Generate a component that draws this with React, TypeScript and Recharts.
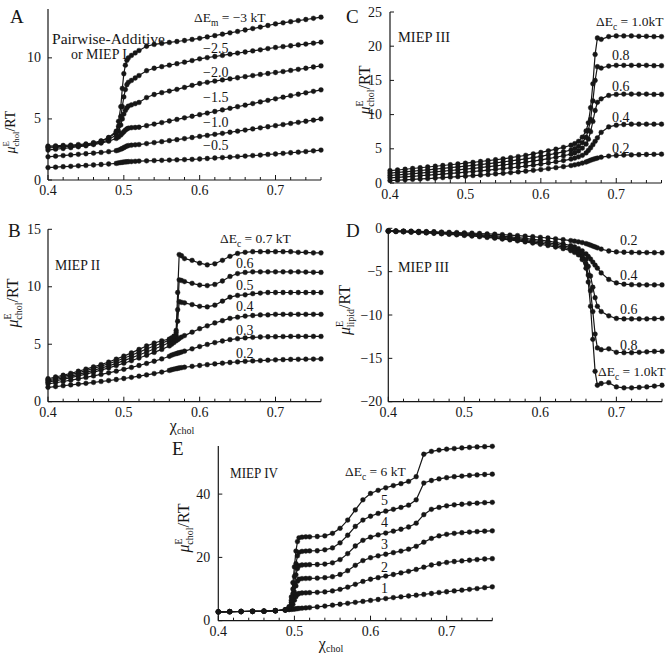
import React from 'react';
import { LineChart, Line, XAxis, YAxis } from 'recharts';

const FONT = '"Liberation Serif", "Times New Roman", serif';
const INK = '#161616';

const X_TICKS = [0.4, 0.42, 0.44, 0.46, 0.48, 0.5, 0.52, 0.54, 0.56, 0.58, 0.6, 0.62, 0.64, 0.66, 0.68, 0.7, 0.72, 0.74, 0.76];

// ---------- Panel A (Pairwise-Additive / MIEP I) ----------
const A_X = [0.40, 0.41, 0.42, 0.43, 0.44, 0.45, 0.46, 0.47, 0.48, 0.49, 0.493, 0.496, 0.498, 0.50, 0.502, 0.504, 0.506, 0.51, 0.515, 0.52, 0.53, 0.54, 0.55, 0.56, 0.57, 0.58, 0.59, 0.60, 0.61, 0.62, 0.63, 0.64, 0.65, 0.66, 0.67, 0.68, 0.69, 0.70, 0.71, 0.72, 0.73, 0.74, 0.75, 0.76];
const A_M05 = [1.02, 1.05, 1.09, 1.12, 1.16, 1.19, 1.23, 1.27, 1.31, 1.36, 1.40, 1.43, 1.45, 1.47, 1.48, 1.49, 1.50, 1.51, 1.53, 1.55, 1.57, 1.59, 1.61, 1.63, 1.65, 1.67, 1.69, 1.72, 1.76, 1.80, 1.84, 1.88, 1.92, 1.96, 2.00, 2.04, 2.09, 2.13, 2.18, 2.23, 2.28, 2.33, 2.39, 2.45];
const A_M10 = [1.90, 1.95, 2.00, 2.05, 2.10, 2.15, 2.20, 2.26, 2.32, 2.40, 2.45, 2.52, 2.58, 2.65, 2.72, 2.78, 2.82, 2.85, 2.88, 2.90, 2.98, 3.06, 3.14, 3.22, 3.30, 3.39, 3.48, 3.57, 3.65, 3.74, 3.82, 3.91, 4.00, 4.09, 4.18, 4.27, 4.36, 4.45, 4.54, 4.63, 4.72, 4.81, 4.90, 5.00];
const A_M15 = [2.45, 2.52, 2.58, 2.65, 2.72, 2.80, 2.90, 3.02, 3.18, 3.40, 3.52, 3.68, 3.82, 3.95, 4.08, 4.18, 4.24, 4.28, 4.30, 4.32, 4.45, 4.58, 4.70, 4.83, 4.96, 5.09, 5.22, 5.35, 5.48, 5.61, 5.74, 5.87, 6.00, 6.13, 6.26, 6.39, 6.52, 6.65, 6.78, 6.90, 7.02, 7.14, 7.26, 7.38];
const A_M20 = [2.62, 2.66, 2.70, 2.75, 2.80, 2.86, 2.95, 3.08, 3.30, 3.70, 4.00, 4.50, 5.00, 5.40, 5.70, 5.90, 6.05, 6.15, 6.25, 6.35, 6.75, 7.00, 7.15, 7.28, 7.42, 7.58, 7.75, 7.90, 8.00, 8.10, 8.19, 8.28, 8.37, 8.46, 8.55, 8.64, 8.72, 8.80, 8.88, 8.97, 9.06, 9.15, 9.25, 9.34];
const A_M25 = [2.78, 2.80, 2.83, 2.86, 2.90, 2.95, 3.05, 3.20, 3.45, 3.90, 4.40, 5.20, 6.00, 6.80, 7.40, 7.80, 8.00, 8.15, 8.35, 8.55, 8.95, 9.15, 9.28, 9.40, 9.52, 9.65, 9.78, 9.92, 10.02, 10.11, 10.20, 10.30, 10.39, 10.48, 10.57, 10.66, 10.76, 10.85, 10.92, 10.99, 11.06, 11.13, 11.20, 11.28];
const A_M30 = [2.70, 2.72, 2.75, 2.78, 2.82, 2.88, 3.00, 3.18, 3.48, 4.00, 4.80, 6.00, 7.50, 8.70, 9.40, 9.80, 10.00, 10.20, 10.40, 10.60, 10.95, 11.10, 11.18, 11.26, 11.34, 11.42, 11.51, 11.60, 11.71, 11.82, 11.94, 12.05, 12.16, 12.28, 12.40, 12.52, 12.65, 12.78, 12.87, 12.96, 13.05, 13.14, 13.24, 13.33];
const A_Y_TICKS = [0, 5, 10];

// ---------- Panel B (MIEP II) ----------
const B_X = [0.40, 0.41, 0.42, 0.43, 0.44, 0.45, 0.46, 0.47, 0.48, 0.49, 0.50, 0.51, 0.52, 0.53, 0.54, 0.55, 0.56, 0.563, 0.566, 0.569, 0.571, 0.573, 0.576, 0.58, 0.59, 0.60, 0.61, 0.62, 0.63, 0.64, 0.65, 0.66, 0.67, 0.68, 0.69, 0.70, 0.71, 0.72, 0.73, 0.74, 0.75, 0.76];
const B_07 = [2.00, 2.15, 2.30, 2.47, 2.65, 2.84, 3.03, 3.23, 3.45, 3.70, 3.97, 4.25, 4.55, 4.85, 5.10, 5.30, 5.45, 5.55, 5.70, 6.20, 9.50, 12.80, 12.70, 12.45, 12.30, 12.05, 11.90, 12.00, 12.30, 12.65, 12.90, 13.00, 13.05, 13.05, 13.05, 13.05, 13.05, 13.05, 13.00, 13.00, 12.95, 12.95];
const B_06 = [1.90, 2.04, 2.19, 2.35, 2.52, 2.70, 2.89, 3.09, 3.30, 3.53, 3.78, 4.04, 4.31, 4.58, 4.85, 5.10, 5.35, 5.45, 5.60, 6.00, 8.00, 10.60, 10.55, 10.45, 10.30, 10.15, 10.10, 10.20, 10.50, 10.90, 11.15, 11.25, 11.30, 11.30, 11.30, 11.30, 11.30, 11.30, 11.30, 11.28, 11.26, 11.25];
const B_05 = [1.80, 1.93, 2.07, 2.22, 2.38, 2.55, 2.73, 2.92, 3.12, 3.34, 3.57, 3.81, 4.06, 4.32, 4.58, 4.85, 5.15, 5.30, 5.45, 5.75, 7.00, 8.70, 8.65, 8.60, 8.45, 8.30, 8.25, 8.40, 8.75, 9.10, 9.25, 9.30, 9.40, 9.45, 9.50, 9.50, 9.50, 9.50, 9.50, 9.50, 9.50, 9.50];
const B_04 = [1.70, 1.82, 1.95, 2.09, 2.24, 2.40, 2.57, 2.75, 2.94, 3.14, 3.35, 3.57, 3.80, 4.04, 4.29, 4.55, 4.85, 5.00, 5.15, 5.30, 5.40, 5.50, 5.62, 5.75, 6.05, 6.35, 6.60, 6.85, 7.05, 7.25, 7.35, 7.45, 7.50, 7.55, 7.55, 7.60, 7.60, 7.60, 7.60, 7.60, 7.60, 7.60];
const B_03 = [1.55, 1.65, 1.76, 1.87, 1.99, 2.11, 2.24, 2.37, 2.51, 2.66, 2.82, 2.98, 3.15, 3.33, 3.52, 3.72, 3.95, 4.05, 4.12, 4.18, 4.22, 4.26, 4.32, 4.40, 4.60, 4.80, 4.98, 5.14, 5.28, 5.40, 5.48, 5.55, 5.60, 5.63, 5.65, 5.66, 5.67, 5.68, 5.68, 5.68, 5.68, 5.68];
const B_02 = [1.25, 1.32, 1.39, 1.46, 1.53, 1.60, 1.68, 1.76, 1.84, 1.93, 2.02, 2.12, 2.22, 2.33, 2.45, 2.58, 2.72, 2.78, 2.83, 2.87, 2.90, 2.93, 2.96, 3.00, 3.08, 3.15, 3.22, 3.29, 3.35, 3.41, 3.46, 3.51, 3.55, 3.58, 3.61, 3.64, 3.66, 3.68, 3.69, 3.70, 3.71, 3.72];
const B_Y_TICKS = [0, 5, 10, 15];

// ---------- Panel C (MIEP III, cholesterol) ----------
const C_X = [0.40, 0.41, 0.42, 0.43, 0.44, 0.45, 0.46, 0.47, 0.48, 0.49, 0.50, 0.51, 0.52, 0.53, 0.54, 0.55, 0.56, 0.57, 0.58, 0.59, 0.60, 0.61, 0.62, 0.63, 0.64, 0.645, 0.65, 0.655, 0.66, 0.663, 0.666, 0.669, 0.672, 0.675, 0.68, 0.69, 0.70, 0.71, 0.72, 0.73, 0.74, 0.75, 0.76];
const C_10 = [1.80, 1.90, 2.01, 2.12, 2.23, 2.34, 2.45, 2.56, 2.67, 2.78, 2.90, 3.02, 3.14, 3.27, 3.40, 3.54, 3.70, 3.87, 4.05, 4.25, 4.47, 4.70, 4.95, 5.22, 5.52, 5.75, 6.10, 6.70, 7.60, 8.80, 11.0, 14.5, 18.8, 21.2, 21.0, 21.4, 21.5, 21.5, 21.5, 21.45, 21.45, 21.4, 21.4];
const C_08 = [1.45, 1.54, 1.63, 1.73, 1.83, 1.93, 2.03, 2.13, 2.24, 2.35, 2.46, 2.58, 2.70, 2.82, 2.95, 3.09, 3.23, 3.38, 3.54, 3.71, 3.90, 4.10, 4.32, 4.56, 4.82, 5.02, 5.35, 5.90, 6.70, 7.70, 9.30, 12.0, 15.0, 17.0, 16.8, 17.1, 17.2, 17.2, 17.2, 17.2, 17.2, 17.15, 17.15];
const C_06 = [1.10, 1.18, 1.27, 1.36, 1.45, 1.54, 1.63, 1.73, 1.83, 1.93, 2.04, 2.15, 2.26, 2.38, 2.50, 2.63, 2.76, 2.90, 3.05, 3.21, 3.38, 3.56, 3.76, 3.98, 4.22, 4.40, 4.68, 5.10, 5.70, 6.40, 7.50, 9.00, 10.6, 11.8, 12.3, 12.8, 12.95, 13.0, 13.0, 13.0, 13.0, 12.95, 12.95];
const C_04 = [0.75, 0.82, 0.90, 0.98, 1.06, 1.14, 1.22, 1.31, 1.40, 1.49, 1.58, 1.68, 1.78, 1.88, 1.99, 2.10, 2.22, 2.34, 2.47, 2.61, 2.76, 2.92, 3.09, 3.28, 3.50, 3.64, 3.82, 4.05, 4.40, 4.75, 5.15, 5.60, 6.10, 6.60, 7.40, 8.20, 8.45, 8.55, 8.60, 8.60, 8.60, 8.60, 8.60];
const C_02 = [0.35, 0.41, 0.47, 0.53, 0.59, 0.65, 0.72, 0.79, 0.86, 0.93, 1.00, 1.08, 1.16, 1.24, 1.33, 1.42, 1.52, 1.62, 1.73, 1.85, 1.97, 2.10, 2.24, 2.39, 2.55, 2.65, 2.77, 2.91, 3.07, 3.20, 3.33, 3.45, 3.55, 3.65, 3.77, 3.93, 4.02, 4.08, 4.11, 4.14, 4.17, 4.19, 4.21];
const C_Y_TICKS = [0, 5, 10, 15, 20, 25];

// ---------- Panel D (MIEP III, lipid) ----------
const D_X = [0.40, 0.41, 0.42, 0.43, 0.44, 0.45, 0.46, 0.47, 0.48, 0.49, 0.50, 0.51, 0.52, 0.53, 0.54, 0.55, 0.56, 0.57, 0.58, 0.59, 0.60, 0.61, 0.62, 0.63, 0.64, 0.645, 0.65, 0.655, 0.66, 0.663, 0.666, 0.669, 0.672, 0.675, 0.68, 0.69, 0.70, 0.71, 0.72, 0.73, 0.74, 0.75, 0.76];
const D_02 = [-0.30, -0.31, -0.32, -0.34, -0.36, -0.38, -0.40, -0.43, -0.46, -0.49, -0.52, -0.56, -0.60, -0.64, -0.68, -0.73, -0.78, -0.84, -0.90, -0.97, -1.04, -1.12, -1.21, -1.31, -1.42, -1.49, -1.56, -1.65, -1.76, -1.85, -1.95, -2.05, -2.15, -2.25, -2.40, -2.62, -2.72, -2.76, -2.78, -2.80, -2.80, -2.81, -2.82];
const D_04 = [-0.30, -0.32, -0.34, -0.36, -0.39, -0.42, -0.45, -0.49, -0.53, -0.57, -0.62, -0.67, -0.73, -0.79, -0.85, -0.92, -0.99, -1.07, -1.16, -1.26, -1.37, -1.49, -1.63, -1.80, -2.00, -2.15, -2.35, -2.60, -2.95, -3.25, -3.55, -3.90, -4.25, -4.60, -5.15, -5.90, -6.30, -6.45, -6.50, -6.52, -6.53, -6.53, -6.53];
const D_06 = [-0.30, -0.33, -0.36, -0.39, -0.42, -0.46, -0.50, -0.54, -0.59, -0.64, -0.70, -0.76, -0.82, -0.89, -0.96, -1.04, -1.12, -1.21, -1.31, -1.42, -1.54, -1.67, -1.82, -2.00, -2.22, -2.40, -2.65, -3.00, -3.60, -4.40, -5.50, -6.80, -8.00, -9.00, -9.60, -10.1, -10.4, -10.45, -10.45, -10.45, -10.45, -10.42, -10.4];
const D_08 = [-0.32, -0.35, -0.38, -0.42, -0.46, -0.50, -0.54, -0.59, -0.64, -0.70, -0.76, -0.83, -0.90, -0.98, -1.06, -1.15, -1.24, -1.34, -1.45, -1.57, -1.70, -1.84, -2.00, -2.18, -2.40, -2.58, -2.85, -3.25, -4.10, -5.40, -7.20, -9.60, -12.2, -13.8, -14.0, -13.9, -14.3, -14.35, -14.35, -14.3, -14.25, -14.2, -14.2];
const D_10 = [-0.35, -0.38, -0.41, -0.45, -0.49, -0.53, -0.58, -0.63, -0.69, -0.75, -0.82, -0.89, -0.97, -1.05, -1.14, -1.24, -1.34, -1.45, -1.57, -1.70, -1.84, -1.99, -2.16, -2.35, -2.58, -2.78, -3.05, -3.60, -4.60, -6.20, -9.00, -12.8, -16.5, -18.1, -17.9, -17.8, -18.3, -18.4, -18.4, -18.35, -18.3, -18.2, -18.1];
const D_Y_TICKS = [0, -5, -10, -15, -20];

// ---------- Panel E (MIEP IV) ----------
const E_X = [0.40, 0.415, 0.43, 0.445, 0.46, 0.475, 0.488, 0.493, 0.496, 0.498, 0.50, 0.502, 0.504, 0.506, 0.51, 0.515, 0.52, 0.53, 0.54, 0.55, 0.56, 0.57, 0.58, 0.59, 0.60, 0.61, 0.62, 0.63, 0.64, 0.65, 0.66, 0.67, 0.68, 0.69, 0.70, 0.71, 0.72, 0.73, 0.74, 0.75, 0.76];
const E_1 = [2.80, 2.85, 2.90, 2.95, 3.00, 3.15, 3.40, 3.50, 3.58, 3.64, 3.70, 3.76, 3.82, 3.88, 3.95, 4.05, 4.15, 4.35, 4.62, 4.90, 5.20, 5.50, 5.80, 6.10, 6.40, 6.70, 7.00, 7.30, 7.55, 7.80, 8.05, 8.30, 8.60, 8.90, 9.15, 9.40, 9.65, 9.90, 10.15, 10.45, 10.70];
const E_2 = [2.80, 2.85, 2.90, 2.95, 3.00, 3.15, 3.40, 3.60, 4.20, 5.20, 6.50, 7.60, 8.30, 8.60, 8.75, 8.80, 8.85, 8.95, 9.10, 9.40, 9.90, 10.60, 11.50, 12.40, 13.10, 13.60, 14.10, 14.60, 15.10, 15.60, 16.20, 16.90, 17.60, 18.00, 18.40, 18.70, 18.90, 19.10, 19.30, 19.50, 19.60];
const E_3 = [2.80, 2.85, 2.90, 2.95, 3.00, 3.15, 3.40, 3.80, 5.00, 6.80, 9.00, 11.00, 12.50, 13.10, 13.30, 13.35, 13.40, 13.45, 13.60, 13.90, 14.60, 15.80, 17.50, 19.00, 19.90, 20.50, 21.00, 21.50, 22.00, 22.60, 23.50, 24.80, 26.00, 26.80, 27.30, 27.60, 27.80, 28.00, 28.15, 28.30, 28.40];
const E_4 = [2.80, 2.85, 2.90, 2.95, 3.00, 3.15, 3.40, 4.00, 5.80, 8.50, 11.50, 14.50, 16.50, 17.40, 17.60, 17.65, 17.70, 17.75, 17.90, 18.30, 19.30, 21.20, 23.60, 25.40, 26.40, 27.10, 27.70, 28.30, 28.90, 29.60, 30.80, 33.50, 35.20, 35.80, 36.30, 36.60, 36.80, 37.00, 37.15, 37.30, 37.40];
const E_5 = [2.80, 2.85, 2.90, 2.95, 3.00, 3.15, 3.40, 4.20, 6.50, 10.00, 14.00, 18.00, 20.50, 21.60, 21.90, 22.00, 22.05, 22.10, 22.40, 23.00, 24.60, 27.00, 29.80, 31.80, 33.00, 33.90, 34.60, 35.20, 35.80, 36.50, 38.20, 43.50, 44.30, 44.80, 45.20, 45.50, 45.70, 45.90, 46.05, 46.20, 46.30];
const E_6 = [2.80, 2.85, 2.90, 2.95, 3.00, 3.15, 3.40, 4.40, 7.50, 12.00, 17.00, 22.00, 25.00, 26.20, 26.40, 26.50, 26.50, 26.60, 26.80, 27.60, 29.20, 31.80, 35.00, 38.20, 40.20, 41.20, 42.00, 42.70, 43.30, 44.00, 45.50, 52.60, 53.50, 53.90, 54.20, 54.40, 54.60, 54.75, 54.90, 55.00, 55.10];
const E_Y_TICKS = [0, 20, 40];

// ---------- drawing helpers ----------
const fmtY = (v: number) => (v < 0 ? '\u2212' + Math.abs(v) : String(v));

const XTick = (props: any) => {
  const { x, y, payload, dy } = props;
  const v = payload.value as number;
  const major = Math.abs(v * 10 - Math.round(v * 10)) < 1e-6;
  return (
    <g>
      <line x1={x} x2={x} y1={y} y2={y - (major ? 5 : 3)} stroke={INK} strokeWidth={1} />
      {major && (
        <text x={x} y={y + dy} textAnchor="middle" fontFamily={FONT} fontSize={14} fill={INK}>
          {v.toFixed(1)}
        </text>
      )}
    </g>
  );
};

const YTick = (props: any) => {
  const { x, y, payload, gap } = props;
  return (
    <g>
      <line x1={x} x2={x + 4} y1={y} y2={y} stroke={INK} strokeWidth={1} />
      <text x={x - gap} y={y + 4.5} textAnchor="end" fontFamily={FONT} fontSize={14} fill={INK}>
        {fmtY(payload.value)}
      </text>
    </g>
  );
};

type PanelProps = {
  left: number; top: number; w: number; h: number;
  x0: number; x1: number; y0: number; y1: number;
  xs: number[]; series: number[][];
  yDomain: [number, number]; yTicks: number[];
  xLabelDy: number; yLabelGap: number;
};

function Panel(p: PanelProps) {
  const rows = p.xs.map((x, i) => {
    const r: Record<string, number> = { x };
    p.series.forEach((s, j) => { r['s' + j] = s[i]; });
    return r;
  });
  return (
    <div style={{ position: 'absolute', left: p.left, top: p.top }}>
      <LineChart width={p.w} height={p.h} data={rows} margin={{ top: p.y0, right: p.w - p.x1, bottom: 0, left: 0 }}>
        <XAxis
          dataKey="x" type="number" domain={[0.4, 0.76]} ticks={X_TICKS} interval={0}
          tickSize={0} tickMargin={0} tickLine={false}
          axisLine={{ stroke: INK, strokeWidth: 1.2 }} height={p.h - p.y1}
          tick={(t: any) => <XTick {...t} dy={p.xLabelDy} />}
        />
        <YAxis
          type="number" domain={p.yDomain} ticks={p.yTicks} interval={0} width={p.x0}
          tickSize={0} tickMargin={0} tickLine={false}
          axisLine={{ stroke: INK, strokeWidth: 1.2 }}
          tick={(t: any) => <YTick {...t} gap={p.yLabelGap} />}
        />
        {p.series.map((_, j) => (
          <Line
            key={j} dataKey={'s' + j} type="linear" stroke={INK} strokeWidth={1.2}
            dot={{ r: 2.4, fill: INK, stroke: INK, strokeWidth: 0.4 }}
            isAnimationActive={false}
          />
        ))}
      </LineChart>
    </div>
  );
}

const T = (props: any) => {
  const { x, y, s = 14, a = 'start', children, ...rest } = props;
  return (
    <text x={x} y={y} fontSize={s} textAnchor={a} fontFamily={FONT} fill={INK} {...rest}>
      {children}
    </text>
  );
};

const DE = ({ x, y, sub, tail }: { x: number; y: number; sub: string; tail: string }) => (
  <text x={x} y={y} fontFamily={FONT} fontSize={13.5} fill={INK}>
    {'\u0394E'}
    <tspan fontSize={9.5} dy={4}>{sub}</tspan>
    <tspan dy={-4}>{' = ' + tail}</tspan>
  </text>
);

const Mu = ({ x, y, sub, s = 16 }: { x: number; y: number; sub: string; s?: number }) => (
  <text transform={`translate(${x},${y}) rotate(-90)`} textAnchor="middle" fontFamily={FONT} fontSize={s} fill={INK}>
    <tspan fontStyle="italic">{'\u03bc'}</tspan>
    <tspan fontSize={s * 0.625} dy={-s * 0.44}>E</tspan>
    <tspan fontSize={s * 0.625} dx={-s * 0.4} dy={s * 0.69}>{sub}</tspan>
    <tspan dy={-s * 0.25}>/RT</tspan>
  </text>
);

const Chi = ({ x, y }: { x: number; y: number }) => (
  <text x={x} y={y} textAnchor="middle" fontFamily={FONT} fontSize={16} fill={INK}>
    {'\u03c7'}
    <tspan fontSize={10} dy={3}>chol</tspan>
  </text>
);

export default function App() {
  return (
    <div style={{ position: 'absolute', left: 0, top: 0, width: 671, height: 656, background: '#fff', overflow: 'hidden' }}>
      <Panel left={0} top={0} w={340} h={205} x0={48} x1={321} y0={9} y1={180}
        xs={A_X} series={[A_M05, A_M10, A_M15, A_M20, A_M25, A_M30]}
        yDomain={[0, 14]} yTicks={A_Y_TICKS} xLabelDy={14.5} yLabelGap={7} />
      <Panel left={330} top={0} w={341} h={205} x0={60} x1={331.5} y0={12} y1={183}
        xs={C_X} series={[C_02, C_04, C_06, C_08, C_10]}
        yDomain={[0, 25]} yTicks={C_Y_TICKS} xLabelDy={15.5} yLabelGap={8} />
      <Panel left={0} top={210} w={340} h={230} x0={48} x1={321} y0={19.3} y1={191.7}
        xs={B_X} series={[B_02, B_03, B_04, B_05, B_06, B_07]}
        yDomain={[0, 15]} yTicks={B_Y_TICKS} xLabelDy={15.5} yLabelGap={7} />
      <Panel left={330} top={210} w={341} h={230} x0={58.3} x1={332} y0={18.3} y1={191.7}
        xs={D_X} series={[D_02, D_04, D_06, D_08, D_10]}
        yDomain={[-20, 0]} yTicks={D_Y_TICKS} xLabelDy={15.5} yLabelGap={6} />
      <Panel left={160} top={430} w={340} h={226} x0={58.3} x1={332.3} y0={16} y1={190.7}
        xs={E_X} series={[E_1, E_2, E_3, E_4, E_5, E_6]}
        yDomain={[0, 55.2]} yTicks={E_Y_TICKS} xLabelDy={15} yLabelGap={8} />

      <svg width={671} height={656} style={{ position: 'absolute', left: 0, top: 0, pointerEvents: 'none' }}>
        {/* panel letters */}
        <T x={10} y={23} s={19}>A</T>
        <T x={8} y={237} s={19}>B</T>
        <T x={346} y={23} s={19}>C</T>
        <T x={346} y={237} s={19}>D</T>
        <T x={172} y={455} s={19}>E</T>

        {/* axis titles */}
        <Mu x={15} y={132} sub="chol" s={14} />
        <Mu x={18} y={303} sub="chol" />
        <Mu x={370} y={90} sub="chol" />
        <Mu x={350} y={310} sub="lipid" />
        <Mu x={189} y={528} sub="chol" />
        <Chi x={182} y={431} />
        <Chi x={331} y={649} />

        {/* Panel A annotations */}
        <T x={52} y={44} textLength={113} lengthAdjust="spacingAndGlyphs">Pairwise-Additive</T>
        <T x={71} y={59} textLength={56} lengthAdjust="spacingAndGlyphs">or MIEP I</T>
        <DE x={194} y={22} sub="m" tail={'\u22123 kT'} />
        <T x={203} y={53}>{'\u22122.5'}</T>
        <T x={203} y={77}>{'\u22122.0'}</T>
        <T x={203} y={102}>{'\u22121.5'}</T>
        <T x={203} y={127}>{'\u22121.0'}</T>
        <T x={203} y={150}>{'\u22120.5'}</T>

        {/* Panel C annotations */}
        <T x={398} y={42} textLength={52} lengthAdjust="spacingAndGlyphs">MIEP III</T>
        <DE x={596} y={26} sub="c" tail="1.0kT" />
        <T x={612} y={60}>0.8</T>
        <T x={612} y={91}>0.6</T>
        <T x={612} y={122}>0.4</T>
        <T x={612} y={153}>0.2</T>

        {/* Panel B annotations */}
        <T x={55} y={270} textLength={45} lengthAdjust="spacingAndGlyphs">MIEP II</T>
        <DE x={220} y={243} sub="c" tail="0.7 kT" />
        <T x={236} y={268}>0.6</T>
        <T x={236} y={290}>0.5</T>
        <T x={236} y={311}>0.4</T>
        <T x={236} y={335}>0.3</T>
        <T x={236} y={358}>0.2</T>

        {/* Panel D annotations */}
        <T x={398} y={272} textLength={51} lengthAdjust="spacingAndGlyphs">MIEP III</T>
        <T x={620} y={245}>0.2</T>
        <T x={620} y={280}>0.4</T>
        <T x={620} y={314}>0.6</T>
        <T x={620} y={350}>0.8</T>
        <DE x={598} y={376} sub="c" tail="1.0kT" />

        {/* Panel E annotations */}
        <T x={230} y={478} textLength={48} lengthAdjust="spacingAndGlyphs">MIEP IV</T>
        <DE x={345} y={476} sub="c" tail="6 kT" />
        <T x={381} y={505}>5</T>
        <T x={381} y={527}>4</T>
        <T x={381} y={549}>3</T>
        <T x={381} y={572}>2</T>
        <T x={381} y={593}>1</T>
      </svg>
    </div>
  );
}
